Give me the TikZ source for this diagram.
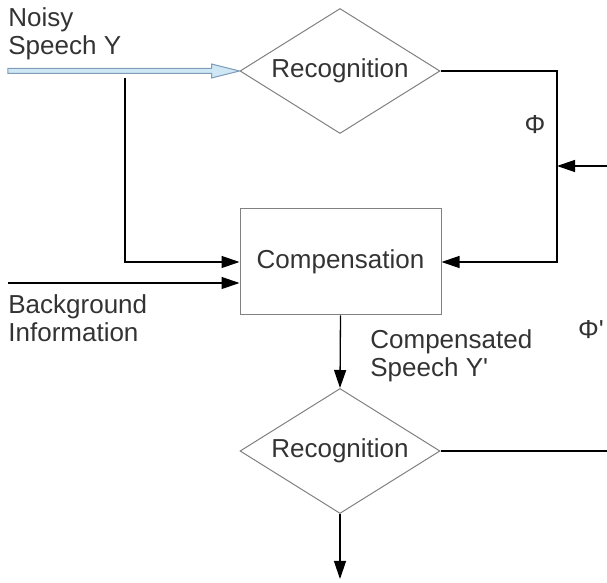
\documentclass[tikz,border=0pt]{standalone}
\usepackage{fontspec}
\setmainfont{Liberation Sans}[Ligatures=TeXOff]
\usetikzlibrary{arrows.meta,shapes,calc}

\definecolor{boxgray}{HTML}{808080}
\definecolor{txtgray}{HTML}{333333}
\definecolor{pipefill}{HTML}{CFE7F5}
\definecolor{pipeedge}{HTML}{7F9DB9}

\begin{document}
\begin{tikzpicture}[x=0.5pt,y=-0.5pt]
            \tikzset{decision/.style = {diamond, aspect=2, draw=boxgray, line width=0.5pt, inner sep=0pt,
                minimum width=100pt, minimum height=62.5pt, text=txtgray,
                font=\fontsize{13}{14}\selectfont}}
            \tikzset{block/.style = {rectangle, draw=boxgray, line width=0.5pt,
                minimum width=100.5pt, minimum height=53pt, text=txtgray,
                font=\fontsize{13}{14}\selectfont}}
            \tikzset{note/.style = {inner sep=0pt, align=left, text=txtgray,
                font=\fontsize{13}{14}\selectfont}}
            \tikzset{wire/.style = {line width=0.65pt}}
            \tikzset{edge/.style = {wire, -{Triangle[length=9pt,width=6pt]}}}

            \useasboundingbox (0,0) rectangle (607,583);

            % blocks
            \node[decision] (rec1) at (340,71) {Recognition};
            \node[block] (comp) at (340.5,262) {Compensation};
            \node[decision] (rec2) at (340,451) {Recognition};

            % free ends
            \coordinate (noisyin) at (8,71);
            \coordinate (tap) at (125,78);
            \coordinate (bgin) at (8,283);
            \coordinate (feed) at (557,262);
            \coordinate (phiin) at (607,166);
            \coordinate (phiout) at (607,451);
            \coordinate (result) at (340,579);

            % labels
            \node[note, anchor=north west] (noisy) at (8,7) {Noisy\\Speech Y};
            \node[note, anchor=north west] (bginfo) at (8,294) {Background\\Information};
            \node[note, anchor=north west] (compsp) at (370,329) {Compensated\\Speech Y'};
            \node[note] (phi) at (535,125) {Φ};
            \node[note] (phiprime) at (591,330) {Φ'};

            % input pipe
            \draw[pipeedge, fill=pipefill, line width=0.5pt]
              ($(noisyin)+(0,-2.5)$) -- ($(rec1.west)+(-28,-2.5)$) -- ($(rec1.west)+(-28,-7)$)
              -- (rec1.west) -- ($(rec1.west)+(-28,7)$) -- ($(rec1.west)+(-28,2.5)$)
              -- ($(noisyin)+(0,2.5)$) -- cycle;

            % edges
            \draw[edge] (tap) |- (comp.west);
            \draw[edge] (bgin) -- (bgin -| comp.west);
            \draw[edge] (rec1.east) -| (feed) -- (comp.east);
            \draw[edge] (phiin) -- (phiin -| feed);
            \draw[edge] (comp.south) -- (rec2.north);
            \draw[wire] (rec2.east) -- (phiout);
            \draw[edge] (rec2.south) -- (result);

\end{tikzpicture}
\end{document}
